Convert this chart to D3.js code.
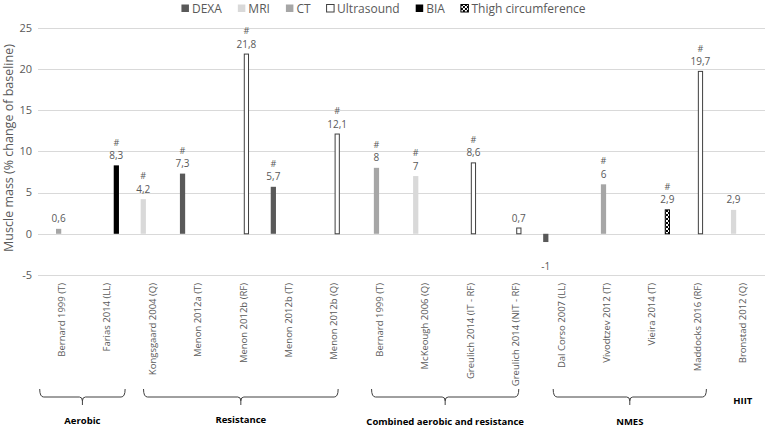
<!DOCTYPE html>
<html><head><meta charset="utf-8">
<script src="https://cdn.jsdelivr.net/npm/d3@7"></script>
<style>body{margin:0;background:#fff}svg{display:block;font-family:"Open Sans",sans-serif}</style>
</head><body><svg id="c" width="766" height="429"></svg>
<script>
const categories = ["Bernard 1999 (T)","Farias 2014 (LL)","Kongsgaard 2004 (Q)","Menon 2012a (T)","Menon 2012b (RF)","Menon 2012b (T)","Menon 2012b (Q)","Bernard 1999 (T) ","McKeough 2006 (Q)","Greulich 2014 (IT - RF)","Greulich 2014 (NIT - RF)","Dal Corso 2007 (LL)","Vivodtzev 2012 (T)","Vieira 2014 (T)","Maddocks 2016 (RF)","Bronstad 2012 (Q)"];
const series = ["DEXA","MRI","CT","Ultrasound","BIA","Thigh circumference"];
const methods = ["CT","BIA","MRI","DEXA","Ultrasound","DEXA","Ultrasound","CT","MRI","Ultrasound","Ultrasound","DEXA","CT","Thigh circumference","Ultrasound","MRI"];
const values = [0.6,8.3,4.2,7.3,21.8,5.7,12.1,8,7,8.6,0.7,-1,6,2.9,19.7,2.9];
const significant = [false,true,true,true,true,true,true,true,true,true,false,false,true,true,true,false];
const yTicks = [-5,0,5,10,15,20,25];
const groupNames = ["Aerobic","Resistance","Combined aerobic and resistance","NMES","HIIT"];
const groupFirst = [0,2,7,11,15];
const groupLast  = [1,6,10,14,15];

// layout / style
const fills = {"DEXA":"#595959","MRI":"#d9d9d9","CT":"#a6a6a6","Ultrasound":"#ffffff","BIA":"#000000","Thigh circumference":"url(#chk)"};
const strokes = {"Ultrasound":"#404040","Thigh circumference":"#000"};
const bracketPad = [[22,18],[9,4],[8,3],[8,9]];
const groupLabelY = [421,420,422,422,401];

const svg = d3.select("#c");
const defs = svg.append("defs");
const pat = defs.append("pattern").attr("id","chk").attr("patternUnits","userSpaceOnUse").attr("width",4).attr("height",4);
pat.append("rect").attr("width",4).attr("height",4).attr("fill","#fff");
pat.append("rect").attr("width",2).attr("height",2).attr("fill","#000");
pat.append("rect").attr("x",2).attr("y",2).attr("width",2).attr("height",2).attr("fill","#000");

const y = d3.scaleLinear().domain([-5,25]).range([275,27.7]);
const x0 = d3.scaleBand().domain(categories).range([39,765.5]).padding(0);
const bw = x0.bandwidth();
const x1 = d3.scaleBand().domain(series).range([bw/2-18,bw/2+18]).paddingInner(0.15);

// grid
svg.append("g").selectAll("line").data(yTicks).join("line")
  .attr("x1",38).attr("x2",765).attr("y1",d=>Math.round(y(d))+0.5).attr("y2",d=>Math.round(y(d))+0.5)
  .attr("stroke","#d9d9d9").attr("stroke-width",1);
svg.append("g").selectAll("text").data(yTicks).join("text")
  .attr("x",32).attr("y",d=>y(d)).attr("dy","0.35em").attr("text-anchor","end")
  .attr("font-size",11).attr("fill","#595959").text(d=>d);

// y title
svg.append("text").attr("transform","translate(13,148) rotate(-90)").attr("text-anchor","middle")
  .attr("font-size",12.5).attr("fill","#595959").text("Muscle mass (% change of baseline)");

// bars
const data = categories.map((c,i)=>({c,m:methods[i],v:values[i],s:significant[i]}));
const bx = d=>x0(d.c)+x1(d.m);
svg.append("g").selectAll("rect").data(data).join("rect")
  .attr("x",d=>bx(d)+(strokes[d.m]?0.5:0))
  .attr("y",d=>y(Math.max(0,d.v)))
  .attr("width",d=>x1.bandwidth()-(strokes[d.m]?1:0))
  .attr("height",d=>Math.abs(y(d.v)-y(0)))
  .attr("fill",d=>fills[d.m])
  .attr("stroke",d=>strokes[d.m]||"none").attr("stroke-width",1);

// value labels
const lab = svg.append("g").attr("font-size",10).attr("fill","#595959").attr("text-anchor","middle");
data.forEach(d=>{
  const cx = bx(d)+x1.bandwidth()/2;
  const vy = d.v>=0 ? y(d.v)-10 : y(d.v)+24;
  lab.append("text").attr("x",cx).attr("y",vy).attr("dy","0.35em").text(String(d.v).replace(".",","));
  if(d.s) lab.append("text").attr("x",cx).attr("y",y(d.v)-23).attr("dy","0.35em").attr("font-size",9).text("#");
});

// category labels
svg.append("g").selectAll("text").data(categories).join("text")
  .attr("transform",c=>`translate(${x0(c)+bw/2},283) rotate(-90)`)
  .attr("dy","0.35em").attr("text-anchor","end").attr("font-size",9.5).attr("fill","#595959")
  .text(c=>c.trim());

// brackets
const bg = svg.append("g").attr("fill","none").attr("stroke","#404040").attr("stroke-width",1);
groupNames.forEach((g,i)=>{
  const cxF = x0(categories[groupFirst[i]])+bw/2, cxL = x0(categories[groupLast[i]])+bw/2;
  let mid = (cxF+cxL)/2;
  if(i<4){
    const L = cxF-bracketPad[i][0], R = cxL+bracketPad[i][1];
    mid = (L+R)/2;
    bg.append("path").attr("d",`M${L},389 Q${L},397 ${L+4},397 H${mid-3} Q${mid},397 ${mid},401 V405 M${mid},401 Q${mid},397 ${mid+3},397 H${R-4} Q${R},397 ${R},389`);
  }
  svg.append("text").attr("x",mid).attr("y",groupLabelY[i]).attr("dy","0.35em").attr("text-anchor","middle")
    .attr("font-size",9.5).attr("font-weight","bold").attr("fill","#000").text(g);
});

// legend
const lg = svg.append("g").attr("font-size",12).attr("fill","#595959");
let lx = 0;
series.forEach(s=>{
  const it = lg.append("g");
  it.append("rect").attr("x",0).attr("y",4.5).attr("width",7.5).attr("height",7.5)
    .attr("fill",fills[s]).attr("stroke",strokes[s]||"none").attr("stroke-width",1);
  const t = it.append("text").attr("x",10.5).attr("y",8.5).attr("dy","0.35em").text(s);
  const w = 10.5+t.node().getComputedTextLength();
  it.attr("transform",`translate(${lx},0)`);
  lx += w+16;
});
const totalW = lx-16;
lg.attr("transform",`translate(${383.5-totalW/2},0)`);
</script></body></html>
